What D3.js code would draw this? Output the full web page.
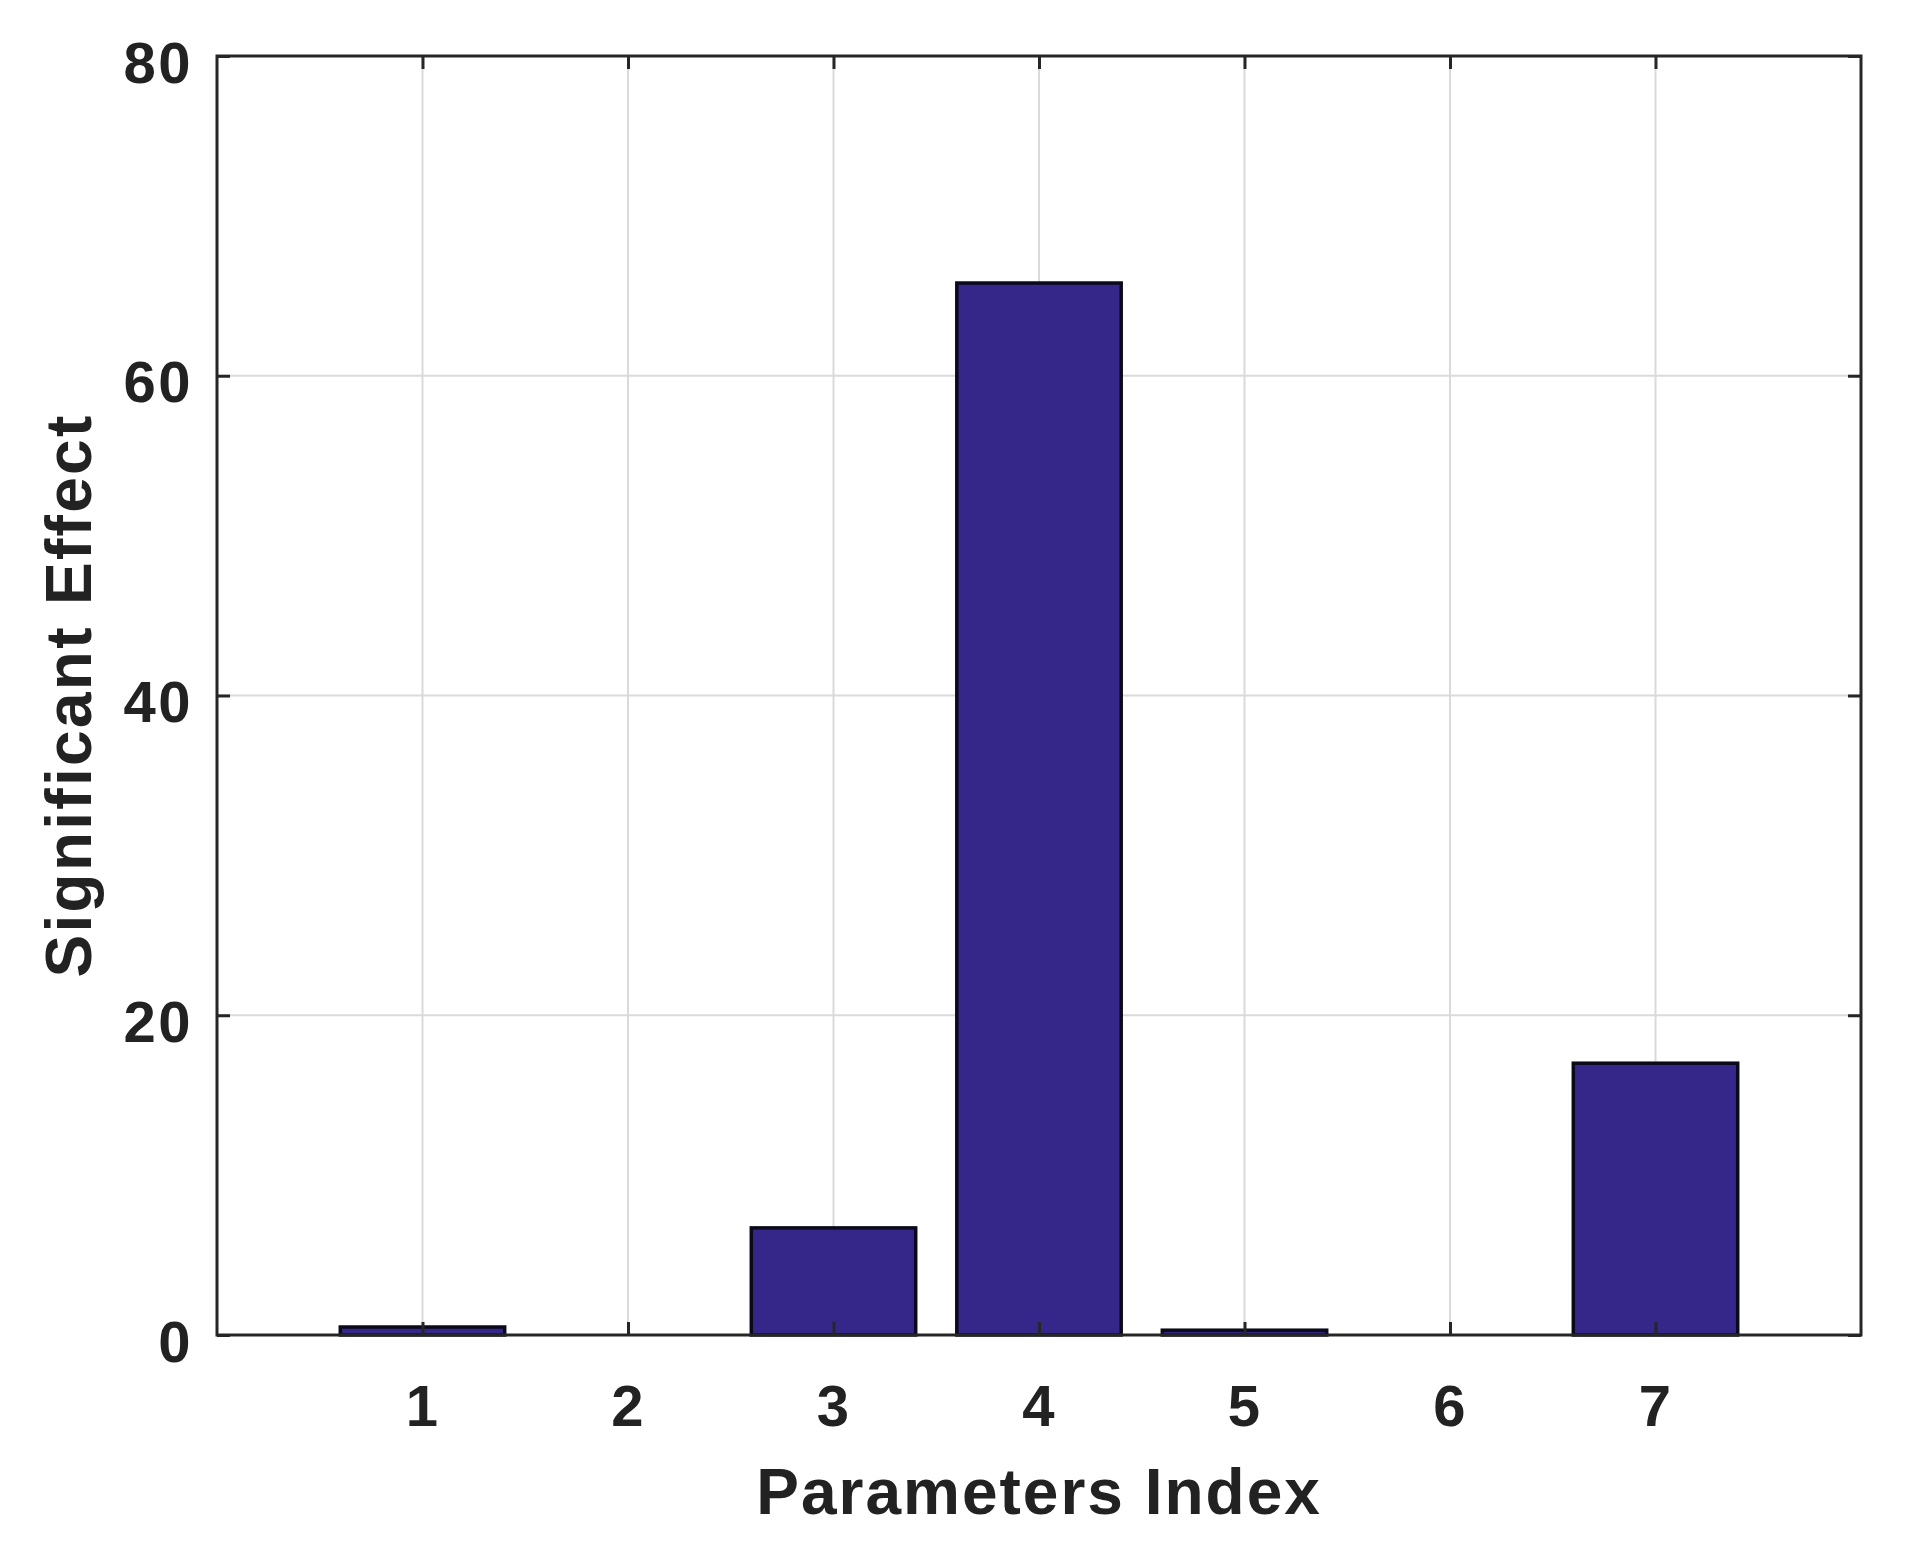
<!DOCTYPE html>
<html>
<head>
<meta charset="utf-8">
<script src="https://cdn.jsdelivr.net/npm/d3@7"></script>
<style>
  html, body { margin: 0; padding: 0; background: #fff; }
  svg { display: block; }
  text { font-family: "Liberation Sans", Arial, Helvetica, sans-serif; font-weight: bold; fill: #222; }
</style>
</head>
<body>
<svg id="chart" width="1910" height="1564"></svg>
<script>
// Data
const categories = [1, 2, 3, 4, 5, 6, 7];
const values = [0.5, 0, 6.7, 65.8, 0.3, 0, 17];
const xTicks = [1, 2, 3, 4, 5, 6, 7];
const yTicks = [0, 20, 40, 60, 80];
const xLabel = "Parameters Index";
const yLabel = "Significant Effect";

const W = 1910, H = 1564;
const margin = { left: 217, right: 49, top: 56, bottom: 229 };
const innerW = W - margin.left - margin.right;
const innerH = H - margin.top - margin.bottom;

const svg = d3.select("#chart");
const g = svg.append("g").attr("transform", `translate(${margin.left},${margin.top})`);

const x = d3.scaleLinear().domain([0, 8]).range([0, innerW]);
const y = d3.scaleLinear().domain([0, 80]).range([innerH, 0]);
const barW = 0.8;

// Grid
g.append("g").selectAll("line.vg").data(xTicks).join("line")
  .attr("x1", d => x(d)).attr("x2", d => x(d))
  .attr("y1", 0).attr("y2", innerH)
  .attr("stroke", "#dadada").attr("stroke-width", 2);
g.append("g").selectAll("line.hg").data(yTicks).join("line")
  .attr("x1", 0).attr("x2", innerW)
  .attr("y1", d => y(d)).attr("y2", d => y(d))
  .attr("stroke", "#dadada").attr("stroke-width", 2);

// Bars
g.append("g").selectAll("rect").data(categories.map((c, i) => ({ c, v: values[i] })).filter(d => d.v > 0)).join("rect")
  .attr("x", d => x(d.c - barW / 2))
  .attr("width", d => x(d.c + barW / 2) - x(d.c - barW / 2))
  .attr("y", d => y(d.v))
  .attr("height", d => y(0) - y(d.v))
  .attr("fill", "#35278a")
  .attr("stroke", "#0a0a1a")
  .attr("stroke-width", 3.5);

// Axes (inward ticks, box)
const tickLen = 13;
const axisColor = "#262626";
const bottomAxis = d3.axisBottom(x).tickValues(xTicks).tickSizeInner(-tickLen).tickSizeOuter(0).tickPadding(50);
const topAxis = d3.axisTop(x).tickValues(xTicks).tickSizeInner(-tickLen).tickSizeOuter(0).tickFormat("");
const leftAxis = d3.axisLeft(y).tickValues(yTicks).tickSizeInner(-tickLen).tickSizeOuter(0).tickPadding(24);
const rightAxis = d3.axisRight(y).tickValues(yTicks).tickSizeInner(-tickLen).tickSizeOuter(0).tickFormat("");

function style(sel) {
  sel.select(".domain").remove();
  sel.selectAll(".tick line").attr("stroke", axisColor).attr("stroke-width", 3);
  sel.selectAll(".tick text").attr("fill", "#222").style("font-size", "58px").style("letter-spacing", "2.5px");
}
const gb = g.append("g").attr("transform", `translate(0,${innerH})`).call(bottomAxis).call(style);
gb.selectAll(".tick text").attr("dy", "0.71em");
g.append("g").call(topAxis).call(style);
const gl = g.append("g").call(leftAxis).call(style);
gl.selectAll(".tick text").attr("dy", "0.45em");
g.append("g").attr("transform", `translate(${innerW},0)`).call(rightAxis).call(style);

// Box
g.append("rect").attr("x", 0).attr("y", 0).attr("width", innerW).attr("height", innerH)
  .attr("fill", "none").attr("stroke", axisColor).attr("stroke-width", 3);

// Axis labels
svg.append("text")
  .attr("x", margin.left + innerW / 2).attr("y", 1514)
  .attr("text-anchor", "middle")
  .style("font-size", "64px").style("letter-spacing", "2px")
  .text(xLabel);
svg.append("text")
  .attr("transform", `translate(91,${margin.top + innerH / 2}) rotate(-90)`)
  .attr("text-anchor", "middle")
  .style("font-size", "64px").style("letter-spacing", "2.3px")
  .text(yLabel);
</script>
</body>
</html>
